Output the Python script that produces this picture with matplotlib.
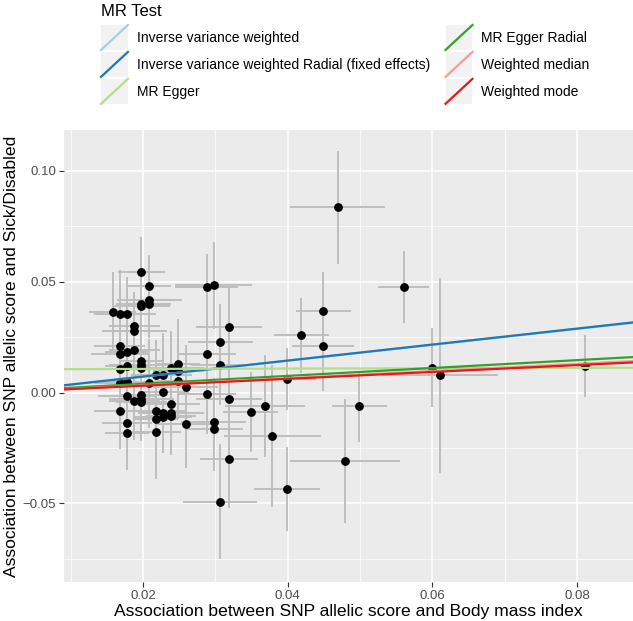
import matplotlib
matplotlib.use("Agg")
import matplotlib.pyplot as plt
from matplotlib.legend_handler import HandlerBase
from matplotlib.lines import Line2D
from matplotlib.patches import Rectangle
import numpy as np

plt.rcParams["font.family"] = ["Liberation Sans", "DejaVu Sans"]

# SNP effects on exposure (BMI) and outcome (Sick/Disabled), with standard errors
bx = [0.0198, 0.0209, 0.0288, 0.0298, 0.0198, 0.0198, 0.0209, 0.0209, 0.0158,
      0.0168, 0.0178, 0.0188, 0.0188, 0.0307, 0.0168, 0.0168, 0.0178, 0.0188,
      0.0288, 0.0198, 0.0198, 0.0198, 0.0168, 0.0178, 0.0218, 0.0228, 0.0239,
      0.0249, 0.0249, 0.0307, 0.0168, 0.0178, 0.0209, 0.0249, 0.0259, 0.0288,
      0.0228, 0.0178, 0.0188, 0.0198, 0.0198, 0.0198, 0.0239, 0.0168, 0.0218,
      0.0228, 0.0239, 0.0218, 0.0228, 0.0239, 0.0259, 0.0178, 0.0178, 0.0218,
      0.0298, 0.0298, 0.0307, 0.0319, 0.0449, 0.0419, 0.0449, 0.0399, 0.0319,
      0.0369, 0.0349, 0.0379, 0.0319, 0.0399, 0.0469, 0.0560, 0.0499, 0.0479,
      0.0600, 0.0610, 0.0811]
by = [0.0544, 0.0479, 0.0476, 0.0484, 0.0401, 0.0389, 0.0416, 0.0400, 0.0362,
      0.0353, 0.0353, 0.0302, 0.0279, 0.0229, 0.0212, 0.0174, 0.0183, 0.0193,
      0.0174, 0.0143, 0.0125, 0.0110, 0.0107, 0.0122, 0.0077, 0.0080, 0.0110,
      0.0130, 0.0098, 0.0125, 0.0042, 0.0047, 0.0042, 0.0052, 0.0024, -0.0007,
      0.0003, -0.0014, -0.0036, -0.0012, -0.0028, -0.0042, -0.0050, -0.0084,
      -0.0081, -0.0090, -0.0090, -0.0119, -0.0111, -0.0104, -0.0141, -0.0136,
      -0.0181, -0.0179, -0.0134, -0.0164, -0.0493, 0.0298, 0.0366, 0.0258,
      0.0208, 0.0062, -0.0030, -0.0062, -0.0089, -0.0197, -0.0300, -0.0434,
      0.0836, 0.0475, -0.0062, -0.0309, 0.0113, 0.0079, 0.0118]
sx = [0.0033, 0.0030, 0.0043, 0.0053, 0.0035, 0.0040, 0.0045, 0.0030, 0.0033,
      0.0035, 0.0040, 0.0035, 0.0045, 0.0045, 0.0035, 0.0040, 0.0030, 0.0035,
      0.0040, 0.0030, 0.0045, 0.0035, 0.0040, 0.0030, 0.0035, 0.0040, 0.0045,
      0.0030, 0.0035, 0.0040, 0.0035, 0.0040, 0.0035, 0.0030, 0.0045, 0.0040,
      0.0035, 0.0040, 0.0035, 0.0030, 0.0045, 0.0035, 0.0040, 0.0035, 0.0040,
      0.0035, 0.0045, 0.0030, 0.0040, 0.0035, 0.0040, 0.0035, 0.0030, 0.0035,
      0.0045, 0.0040, 0.0051, 0.0045, 0.0038, 0.0038, 0.0043, 0.0040, 0.0045,
      0.0055, 0.0038, 0.0067, 0.0040, 0.0046, 0.0066, 0.0035, 0.0038, 0.0076,
      0.0015, 0.0081, 0.0010]
sy = [0.016, 0.014, 0.015, 0.0195, 0.018, 0.016, 0.017, 0.015, 0.018,
      0.020, 0.017, 0.015, 0.014, 0.017, 0.017, 0.016, 0.019, 0.015,
      0.020, 0.018, 0.017, 0.016, 0.017, 0.018, 0.016, 0.019, 0.017,
      0.020, 0.016, 0.018, 0.016, 0.018, 0.020, 0.017, 0.019, 0.018,
      0.017, 0.016, 0.018, 0.017, 0.019, 0.016, 0.018, 0.017, 0.016,
      0.018, 0.017, 0.019, 0.016, 0.018, 0.020, 0.018, 0.017, 0.021,
      0.020, 0.019, 0.026, 0.018, 0.018, 0.017, 0.020, 0.014, 0.020,
      0.023, 0.018, 0.032, 0.022, 0.019, 0.0254, 0.0163, 0.016, 0.028,
      0.018, 0.044, 0.014]

# MR estimates drawn as lines (intercept, slope)
methods = ["Inverse variance weighted",
           "Inverse variance weighted Radial (fixed effects)",
           "MR Egger", "MR Egger Radial", "Weighted median", "Weighted mode"]
intercepts = [0.0, 0.0, 0.0105, 0.0004, 0.0, 0.0]
slopes = [0.359, 0.361, 0.008, 0.178, 0.162, 0.155]
colors = ["#A6CEE3", "#1F78B4", "#B2DF8A", "#33A02C", "#FB9A99", "#E31A1C"]


class DiagonalKey(HandlerBase):
    """ggplot style abline key: grey square with a diagonal"""

    def create_artists(self, legend, orig_handle, xdescent, ydescent,
                       width, height, fontsize, trans):
        bg = Rectangle((-xdescent, -ydescent), width, height,
                       facecolor="#F2F2F2", edgecolor="none", transform=trans)
        line = Line2D([-xdescent, -xdescent + width],
                      [-ydescent, -ydescent + height],
                      color=orig_handle.get_color(),
                      lw=orig_handle.get_linewidth(), transform=trans)
        return [bg, line]


def main():
    fig = plt.figure(figsize=(6.33, 6.21), dpi=100)
    ax = fig.add_axes([64 / 633, 1 - 582 / 621, 1 - 64 / 633, 452 / 621])
    ax.set_facecolor("#EBEBEB")
    for s in ax.spines.values():
        s.set_visible(False)

    ax.set_xlim(0.0091, 0.0877)
    ax.set_ylim(-0.0855, 0.1185)
    ax.set_xticks([0.02, 0.04, 0.06, 0.08])
    ax.set_xticklabels(["0.02", "0.04", "0.06", "0.08"])
    ax.set_yticks([-0.05, 0.0, 0.05, 0.10])
    ax.set_yticklabels(["\u22120.05", "0.00", "0.05", "0.10"])
    ax.set_xticks([0.01, 0.03, 0.05, 0.07], minor=True)
    ax.set_yticks([-0.075, -0.025, 0.025, 0.075], minor=True)
    ax.grid(which="major", color="white", lw=1.1)
    ax.grid(which="minor", color="white", lw=0.55)
    ax.set_axisbelow(True)
    ax.tick_params(which="major", length=3.5, width=0.8, color="#333333",
                   labelcolor="#4D4D4D", labelsize=9.5, pad=2)
    ax.tick_params(which="minor", length=0)

    ax.errorbar(bx, by, yerr=sy, fmt="none", ecolor="#BEBEBE", elinewidth=1.4,
                capsize=0, zorder=2)
    ax.errorbar(bx, by, xerr=sx, fmt="none", ecolor="#BEBEBE", elinewidth=1.4,
                capsize=0, zorder=2)
    ax.plot(bx, by, "o", color="black", markersize=5.3, zorder=3)

    xs = np.array(ax.get_xlim())
    handles = []
    for name, a, b, c in zip(methods, intercepts, slopes, colors):
        h, = ax.plot(xs, a + b * xs, color=c, lw=1.6, label=name, zorder=4)
        handles.append(h)

    ax.set_xlabel("Association between SNP allelic score and Body mass index",
                  fontsize=12.6, labelpad=2)
    ax.set_ylabel("Association between SNP allelic score and Sick/Disabled",
                  fontsize=12.6, labelpad=3)

    # legend title set apart, ggplot leaves a wider gap under it
    fig.text(101 / 633, 1 - 11 / 621, "MR Test", fontsize=12,
             ha="left", va="center")
    fig.legend(handles, methods, ncol=2, loc="upper left",
               bbox_to_anchor=(101 / 633, 1 - 25 / 621), frameon=False,
               fontsize=10, handlelength=1.94, handleheight=2.39,
               labelspacing=0.14, handletextpad=0.65, columnspacing=1.1,
               borderpad=0, borderaxespad=0,
               handler_map={Line2D: DiagonalKey()})

    fig.savefig("out.png", dpi=100)


if __name__ == "__main__":
    main()
